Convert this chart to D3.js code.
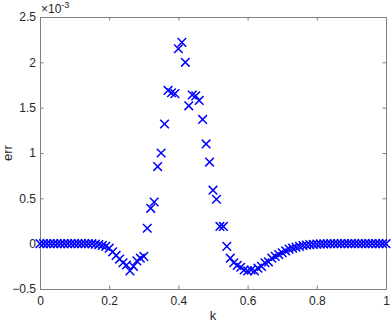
<!DOCTYPE html>
<html>
<head>
<meta charset="utf-8">
<script src="https://cdn.jsdelivr.net/npm/d3@7"></script>
<style>
  body { margin: 0; background: #fff; }
  text { font-family: "Liberation Sans", Arial, sans-serif; }
</style>
</head>
<body>
<div id="canvas"></div>
<script>
"use strict"

/* data: k grid 0:0.01:1, err values in units of 1e-3 */
let kValues = d3.range(0, 101).map(i => i / 100);
let errValues = [
    0, 0, 0, 0, 0, 0, 0, 0, 0, 0,
    0, 0, 0, 0, 0, 0, -0.005, -0.01, -0.02, -0.03,
    -0.05, -0.09, -0.13, -0.17, -0.21, -0.235, -0.30, -0.25, -0.19, -0.16,
    -0.14, 0.17, 0.39, 0.46, 0.85, 1.00, 1.32, 1.69, 1.665, 1.655,
    2.15, 2.22, 2.00, 1.52, 1.64, 1.63, 1.58, 1.37, 1.10, 0.90,
    0.59, 0.49, 0.19, 0.19, -0.03, -0.16, -0.21, -0.24, -0.26, -0.29,
    -0.30, -0.29, -0.30, -0.27, -0.25, -0.21, -0.20, -0.16, -0.14, -0.12,
    -0.10, -0.08, -0.06, -0.05, -0.04, -0.03, -0.02, -0.015, -0.01, -0.007,
    -0.005, -0.003, -0.003, -0.002, 0, 0, 0, 0, 0, 0,
    0, 0, 0, 0, 0, 0, 0, 0, 0, 0,
    0
];
let xTicks = [0, 0.2, 0.4, 0.6, 0.8, 1];
let yTicks = [-0.5, 0, 0.5, 1, 1.5, 2, 2.5];

/* canvas */
let drawing = d3.select("#canvas")
    .append("svg")
    .attr("width", 392)
    .attr("height", 324);

/* plot box */
let plotLeft = 40, plotRight = 386, plotTop = 17, plotBottom = 289;

let xScale = d3.scaleLinear().domain([0, 1]).range([plotLeft, plotRight]);
let yScale = d3.scaleLinear().domain([-0.5, 2.5]).range([plotBottom, plotTop]);

let axisColor = "#808080";

/* bottom axis with labels */
let xAxis = drawing.append("g")
    .attr("transform", "translate(0," + plotBottom + ")")
    .call(d3.axisBottom(xScale).tickValues(xTicks).tickSizeInner(-3.5).tickSizeOuter(0).tickPadding(7)
        .tickFormat(d3.format("")));

/* top axis, ticks only */
let xAxisTop = drawing.append("g")
    .attr("transform", "translate(0," + plotTop + ")")
    .call(d3.axisTop(xScale).tickValues(xTicks).tickSizeInner(-3.5).tickSizeOuter(0).tickFormat(""));

/* left axis with labels */
let yAxis = drawing.append("g")
    .attr("transform", "translate(" + plotLeft + ",0)")
    .call(d3.axisLeft(yScale).tickValues(yTicks).tickSizeInner(-3.5).tickSizeOuter(0).tickPadding(4)
        .tickFormat(d3.format("")));

/* right axis, ticks only */
let yAxisRight = drawing.append("g")
    .attr("transform", "translate(" + plotRight + ",0)")
    .call(d3.axisRight(yScale).tickValues(yTicks).tickSizeInner(-3.5).tickSizeOuter(0).tickFormat(""));

drawing.selectAll(".domain, .tick line")
    .attr("stroke", axisColor)
    .attr("stroke-width", 1);
drawing.selectAll(".tick text")
    .attr("fill", "#262626")
    .style("font-size", "12px");

/* markers (x shapes) */
let markers = drawing.append("g")
    .selectAll("path")
    .data(kValues.map((k, i) => [k, errValues[i]]))
    .join("path")
    .attr("d", d => {
        let cx = xScale(d[0]), cy = yScale(d[1]), s = 4.3;
        return "M" + (cx - s) + "," + (cy - s) + "L" + (cx + s) + "," + (cy + s)
            + "M" + (cx - s) + "," + (cy + s) + "L" + (cx + s) + "," + (cy - s);
    })
    .attr("stroke", "#0000ff")
    .attr("stroke-width", 1.5)
    .attr("fill", "none");

/* exponent label */
let expLabel = drawing.append("text")
    .attr("x", plotLeft + 1)
    .attr("y", 13)
    .attr("fill", "#262626")
    .style("font-size", "12px")
    .text("\u00d710");
expLabel.append("tspan")
    .attr("dy", -5)
    .style("font-size", "9px")
    .text("-3");

/* axis titles */
let xLabel = drawing.append("text")
    .attr("x", (plotLeft + plotRight) / 2)
    .attr("y", 320)
    .attr("text-anchor", "middle")
    .attr("fill", "#262626")
    .style("font-size", "13px")
    .text("k");

let yLabel = drawing.append("text")
    .attr("transform", "translate(12," + ((plotTop + plotBottom) / 2) + ") rotate(-90)")
    .attr("text-anchor", "middle")
    .attr("fill", "#262626")
    .style("font-size", "13px")
    .text("err");
</script>
</body>
</html>
